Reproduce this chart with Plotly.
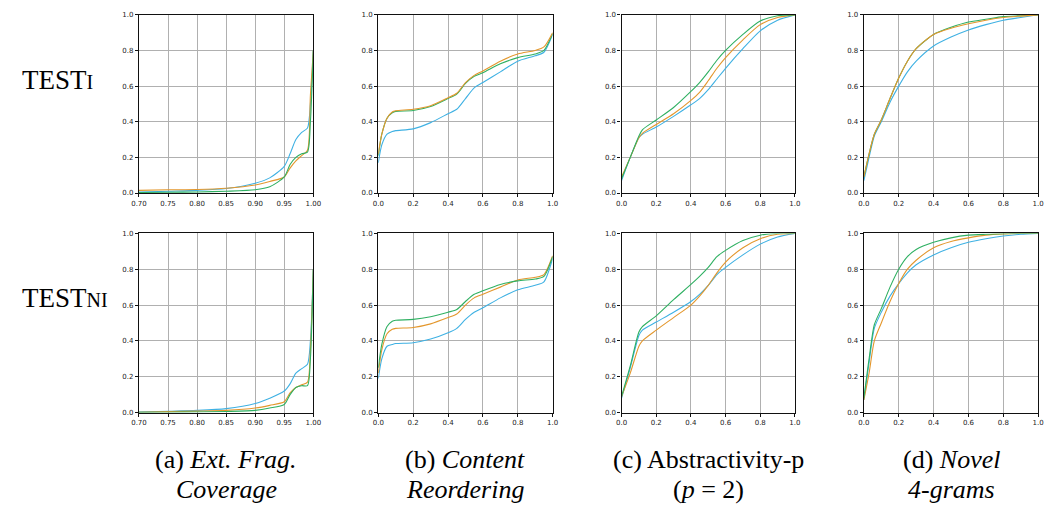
import plotly.graph_objects as go

# ---------------- data ----------------
# Panel (a) Ext. Frag. Coverage
x_a = [0.70, 0.75, 0.80, 0.85, 0.90, 0.925, 0.95, 0.96, 0.97, 0.98, 0.99, 0.995, 1.0]
a1_blue   = [0.005, 0.010, 0.015, 0.025, 0.055, 0.085, 0.150, 0.220, 0.300, 0.340, 0.365, 0.50, 0.80]
a1_orange = [0.015, 0.018, 0.020, 0.027, 0.045, 0.065, 0.090, 0.140, 0.180, 0.210, 0.240, 0.55, 0.80]
a1_green  = [0.003, 0.004, 0.006, 0.010, 0.018, 0.035, 0.090, 0.160, 0.200, 0.220, 0.230, 0.40, 0.80]
a2_blue   = [0.003, 0.007, 0.012, 0.022, 0.050, 0.080, 0.120, 0.160, 0.220, 0.245, 0.270, 0.40, 0.80]
a2_orange = [0.002, 0.005, 0.008, 0.012, 0.025, 0.040, 0.060, 0.110, 0.140, 0.155, 0.170, 0.35, 0.80]
a2_green  = [0.001, 0.002, 0.003, 0.006, 0.012, 0.025, 0.045, 0.100, 0.140, 0.150, 0.150, 0.30, 0.80]

# Panel (b) Content Reordering
x_b = [0.0, 0.02, 0.05, 0.08, 0.1, 0.2, 0.3, 0.4, 0.45, 0.5, 0.55, 0.6, 0.7, 0.8, 0.9, 0.95, 1.0]
b1_orange = [0.22, 0.33, 0.42, 0.455, 0.462, 0.470, 0.490, 0.535, 0.560, 0.620, 0.660, 0.685, 0.740, 0.780, 0.800, 0.820, 0.900]
b1_green  = [0.21, 0.33, 0.42, 0.450, 0.458, 0.463, 0.485, 0.530, 0.555, 0.615, 0.655, 0.675, 0.725, 0.760, 0.780, 0.800, 0.895]
b1_blue   = [0.17, 0.27, 0.33, 0.345, 0.350, 0.360, 0.395, 0.445, 0.470, 0.530, 0.590, 0.620, 0.680, 0.740, 0.770, 0.790, 0.890]
b2_green  = [0.25, 0.38, 0.48, 0.510, 0.515, 0.520, 0.535, 0.560, 0.575, 0.620, 0.660, 0.680, 0.715, 0.735, 0.745, 0.760, 0.870]
b2_orange = [0.22, 0.35, 0.44, 0.465, 0.470, 0.475, 0.495, 0.530, 0.550, 0.600, 0.640, 0.660, 0.700, 0.740, 0.755, 0.770, 0.875]
b2_blue   = [0.19, 0.30, 0.37, 0.380, 0.385, 0.390, 0.410, 0.445, 0.470, 0.520, 0.560, 0.585, 0.640, 0.685, 0.710, 0.730, 0.860]

# Panel (c) Abstractivity-p (p = 2)
x_c = [0.0, 0.05, 0.1, 0.12, 0.2, 0.3, 0.4, 0.45, 0.5, 0.55, 0.6, 0.7, 0.8, 0.9, 1.0]
c1_green  = [0.08, 0.20, 0.32, 0.355, 0.410, 0.480, 0.570, 0.620, 0.680, 0.745, 0.800, 0.890, 0.965, 0.995, 1.0]
c1_orange = [0.09, 0.20, 0.31, 0.335, 0.385, 0.445, 0.520, 0.565, 0.630, 0.700, 0.760, 0.860, 0.945, 0.985, 1.0]
c1_blue   = [0.07, 0.20, 0.31, 0.330, 0.370, 0.430, 0.495, 0.530, 0.580, 0.640, 0.700, 0.810, 0.910, 0.970, 1.0]
c2_green  = [0.09, 0.26, 0.45, 0.480, 0.540, 0.630, 0.715, 0.760, 0.810, 0.870, 0.905, 0.960, 0.990, 1.000, 1.0]
c2_blue   = [0.08, 0.25, 0.43, 0.460, 0.505, 0.560, 0.620, 0.660, 0.710, 0.770, 0.810, 0.880, 0.940, 0.980, 1.0]
c2_orange = [0.09, 0.22, 0.37, 0.400, 0.460, 0.530, 0.600, 0.650, 0.710, 0.780, 0.840, 0.920, 0.970, 0.995, 1.0]

# Panel (d) Novel 4-grams
x_d = [0.0, 0.03, 0.06, 0.1, 0.15, 0.2, 0.25, 0.3, 0.4, 0.5, 0.6, 0.7, 0.8, 0.9, 1.0]
d1_green  = [0.09, 0.22, 0.33, 0.41, 0.530, 0.645, 0.740, 0.810, 0.890, 0.930, 0.960, 0.975, 0.990, 0.995, 1.0]
d1_orange = [0.09, 0.22, 0.33, 0.41, 0.530, 0.645, 0.740, 0.810, 0.890, 0.925, 0.950, 0.970, 0.985, 0.993, 1.0]
d1_blue   = [0.07, 0.20, 0.32, 0.40, 0.510, 0.600, 0.680, 0.740, 0.825, 0.875, 0.915, 0.945, 0.970, 0.985, 1.0]
d2_green  = [0.08, 0.30, 0.49, 0.58, 0.700, 0.800, 0.870, 0.910, 0.950, 0.975, 0.990, 0.995, 0.998, 1.000, 1.0]
d2_blue   = [0.07, 0.28, 0.47, 0.56, 0.650, 0.720, 0.780, 0.825, 0.880, 0.920, 0.950, 0.970, 0.985, 0.995, 1.0]
d2_orange = [0.07, 0.22, 0.40, 0.50, 0.620, 0.720, 0.800, 0.850, 0.920, 0.955, 0.975, 0.990, 0.997, 1.000, 1.0]

row_labels = ["TEST<span style='font-size:20px'>I</span>", "TEST<span style='font-size:20px'>NI</span>"]
captions_l1 = ["(a) <i>Ext. Frag.</i>", "(b) <i>Content</i>", "(c) Abstractivity-p", "(d) <i>Novel</i>"]
captions_l2 = ["<i>Coverage</i>", "<i>Reordering</i>", "(<i>p</i> = 2)", "<i>4-grams</i>"]
xticks_a = [0.70, 0.75, 0.80, 0.85, 0.90, 0.95, 1.00]
xticks_o = [0.0, 0.2, 0.4, 0.6, 0.8, 1.0]
yticks = [0.0, 0.2, 0.4, 0.6, 0.8, 1.0]

BLUE, ORANGE, GREEN = "#3fb1e3", "#e3972d", "#2fb062"

panels = [
    (0, 0, x_a, [(a1_blue, BLUE), (a1_orange, ORANGE), (a1_green, GREEN)], xticks_a),
    (0, 1, x_b, [(b1_blue, BLUE), (b1_green, GREEN), (b1_orange, ORANGE)], xticks_o),
    (0, 2, x_c, [(c1_blue, BLUE), (c1_orange, ORANGE), (c1_green, GREEN)], xticks_o),
    (0, 3, x_d, [(d1_blue, BLUE), (d1_green, GREEN), (d1_orange, ORANGE)], xticks_o),
    (1, 0, x_a, [(a2_blue, BLUE), (a2_orange, ORANGE), (a2_green, GREEN)], xticks_a),
    (1, 1, x_b, [(b2_blue, BLUE), (b2_orange, ORANGE), (b2_green, GREEN)], xticks_o),
    (1, 2, x_c, [(c2_blue, BLUE), (c2_orange, ORANGE), (c2_green, GREEN)], xticks_o),
    (1, 3, x_d, [(d2_blue, BLUE), (d2_orange, ORANGE), (d2_green, GREEN)], xticks_o),
]

W, H = 1058, 515
col_px = [(133, 310), (376, 553), (623, 799), (869, 1046)]
row_px = [(11, 192), (233, 415)]

fig = go.Figure()
layout = dict(
    width=W, height=H, margin=dict(l=0, r=0, t=0, b=0),
    paper_bgcolor="white", plot_bgcolor="white", showlegend=False,
)
for i, (r, c, xs, series, xt) in enumerate(panels):
    n = i + 1
    xa = "x" if n == 1 else f"x{n}"
    ya = "y" if n == 1 else f"y{n}"
    for ys, col in series:
        fig.add_trace(go.Scatter(x=xs, y=ys, mode="lines",
                                 line=dict(color=col, width=1.1, shape="spline", smoothing=0.7),
                                 xaxis=xa, yaxis=ya, hoverinfo="skip"))
    x0, x1 = col_px[c]
    y0, y1 = row_px[r]
    common = dict(showline=True, mirror=True, linecolor="#111", linewidth=1.3,
                  ticks="outside", ticklen=3, tickwidth=0.8, tickcolor="#111",
                  showgrid=True, gridcolor="#b0b0b0", gridwidth=1, zeroline=False,
                  tickfont=dict(family="DejaVu Sans", size=7, color="#222"))
    rng = [0.70, 1.0] if c == 0 else [0.0, 1.0]
    fmt = ".2f" if c == 0 else ".1f"
    layout["xaxis" if n == 1 else f"xaxis{n}"] = dict(
        domain=[x0 / W, x1 / W], range=rng, tickvals=xt, tickformat=fmt,
        anchor=ya, **common)
    layout["yaxis" if n == 1 else f"yaxis{n}"] = dict(
        domain=[1 - y1 / H, 1 - y0 / H], range=[0, 1], tickvals=yticks, tickformat=".1f",
        anchor=xa, **common)

annotations = []
serif = "Liberation Serif"
for r, lab in enumerate(row_labels):
    yc = row_px[r][0] + 66
    annotations.append(dict(text=lab, x=12 / W, y=1 - yc / H, xref="paper", yref="paper",
                            showarrow=False, xanchor="left", yanchor="middle",
                            font=dict(family=serif, size=27, color="black")))
for c in range(4):
    xc = (col_px[c][0] + col_px[c][1]) / 2 / W
    annotations.append(dict(text=captions_l1[c], x=xc, y=1 - 463 / H, xref="paper", yref="paper",
                            showarrow=False, xanchor="center", yanchor="middle",
                            font=dict(family=serif, size=26, color="black")))
    annotations.append(dict(text=captions_l2[c], x=xc, y=1 - 493 / H, xref="paper", yref="paper",
                            showarrow=False, xanchor="center", yanchor="middle",
                            font=dict(family=serif, size=26, color="black")))
layout["annotations"] = annotations
fig.update_layout(**layout)
fig.write_html("out.html", config={"displayModeBar": False},
               post_script="document.body.style.margin='0';document.body.style.overflow='hidden';")
